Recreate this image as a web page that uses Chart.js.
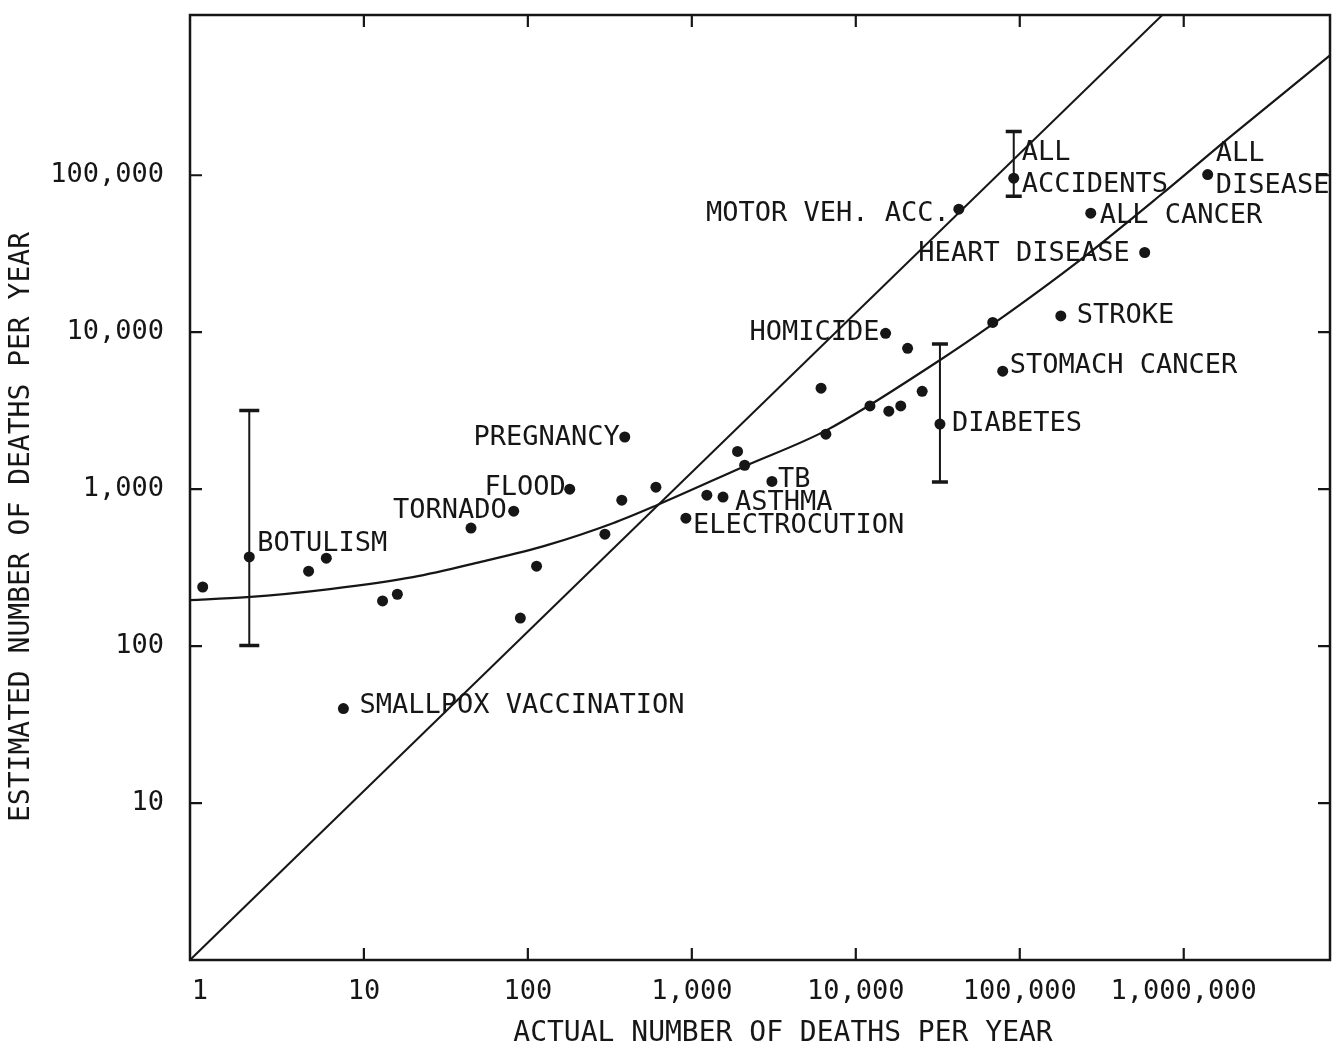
<!DOCTYPE html>
<html>
<head>
<meta charset="utf-8">
<script src="https://cdn.jsdelivr.net/npm/chart.js@4.4.1/dist/chart.umd.min.js"></script>
<style>
  html, body { margin: 0; padding: 0; background: #fff; }
  #wrap { width: 1339px; height: 1059px; }
</style>
</head>
<body>
<div id="wrap"><canvas id="ourChart"></canvas></div>
<script>
// one entry per hazard: name ('' = unlabeled), actual deaths, estimated deaths
let hazardNames = ['', 'BOTULISM', '', '', '', '', 'SMALLPOX VACCINATION', '', 'TORNADO', 'FLOOD',
    'PREGNANCY', '', '', '', '', '', 'ELECTROCUTION', '', 'ASTHMA', '', '', 'TB', '', '', '', '', '',
    'HOMICIDE', '', '', 'DIABETES', '', 'STOMACH CANCER', 'STROKE', 'MOTOR VEH. ACC.', 'ALL ACCIDENTS',
    'ALL CANCER', 'HEART DISEASE', 'ALL DISEASE'];
let actualDeaths = [1.04, 2, 4.6, 5.9, 13, 16, 7.5, 45, 82, 180,
    390, 90, 113, 295, 374, 604, 920, 1235, 1550, 1900, 2100, 3080, 6140, 6570, 12200, 15900, 18800,
    15200, 20700, 25400, 32600, 68400, 78700, 178000, 42500, 91900,
    271000, 578000, 1400000];
let estimatedDeaths = [238, 370, 300, 363, 194, 214, 40, 565, 724, 1000,
    2150, 151, 323, 517, 851, 1030, 653, 915, 890, 1740, 1420, 1120, 4400, 2240, 3390, 3140, 3390,
    9840, 7890, 4200, 2600, 11550, 5650, 12700, 60800, 95800,
    57300, 32200, 101000];

// ranges of estimates shown as bars
let rangeNames = ['BOTULISM', 'DIABETES', 'ALL ACCIDENTS'];
let rangeActual = [2, 32600, 91900];
let rangeLow = [101, 1110, 73500];
let rangeHigh = [3170, 8400, 190000];

// fitted curve
let curveActual = [0.83, 1.94, 6.2, 19.9, 51, 131, 330, 612, 2100, 6650, 32500, 68400, 232000, 745000, 1910000, 7800000];
let curveEstimated = [196, 205, 231, 275, 343, 440, 607, 791, 1400, 2377, 6630, 11250, 28700, 76800, 175000, 581000];

// line of correct estimates
let diagActual = [0.87, 740000];
let diagEstimated = [1, 1050000];

let xTicks = [1, 10, 100, 1000, 10000, 100000, 1000000];
let yTicks = [10, 100, 1000, 10000, 100000];

let xTitle = 'ACTUAL NUMBER OF DEATHS PER YEAR';
let yTitle = 'ESTIMATED NUMBER OF DEATHS PER YEAR';

const ink = '#161616';
const fontFamily = '"DejaVu Sans Mono", "Liberation Mono", monospace';

// where each name sits next to its dot
const labelPlace = {
    'BOTULISM': { dx: 8, dy: -16, align: 'left' },
    'SMALLPOX VACCINATION': { dx: 16, dy: -6, align: 'left' },
    'TORNADO': { dx: -7, dy: -3, align: 'right' },
    'FLOOD': { dx: -4, dy: -4, align: 'right' },
    'PREGNANCY': { dx: -5, dy: -2, align: 'right' },
    'ELECTROCUTION': { dx: 7, dy: 5, align: 'left' },
    'ASTHMA': { dx: 12, dy: 3, align: 'left' },
    'TB': { dx: 6, dy: -4, align: 'left' },
    'HOMICIDE': { dx: -6, dy: -3, align: 'right' },
    'DIABETES': { dx: 12, dy: -3, align: 'left' },
    'STOMACH CANCER': { dx: 7, dy: -8, align: 'left' },
    'STROKE': { dx: 16, dy: -3, align: 'left' },
    'HEART DISEASE': { dx: -15, dy: -2, align: 'right' },
    'ALL CANCER': { dx: 9, dy: 0, align: 'left' },
    'MOTOR VEH. ACC.': { dx: -9, dy: 2, align: 'right' },
    'ALL ACCIDENTS': { dx: 8, dy: -28, align: 'left', lines: ['ALL', 'ACCIDENTS'] },
    'ALL DISEASE': { dx: 8, dy: -24, align: 'left', lines: ['ALL', 'DISEASE'] }
};

const pairs = (xs, ys) => xs.map((v, i) => ({ x: v, y: ys[i] }));

const framePlugin = {
    id: 'frameAndNotes',
    afterDatasetsDraw(chart) {
        const ctx = chart.ctx;
        const a = chart.chartArea;
        const xs = chart.scales.x;
        const ys = chart.scales.y;
        ctx.save();
        ctx.strokeStyle = ink;
        ctx.fillStyle = ink;

        // box
        ctx.lineWidth = 2.5;
        ctx.strokeRect(a.left, a.top, a.right - a.left, a.bottom - a.top);

        // inward ticks
        ctx.lineWidth = 2.2;
        ctx.beginPath();
        xTicks.forEach(v => {
            const px = xs.getPixelForValue(v);
            if (px - a.left < 15) return;
            ctx.moveTo(px, a.bottom); ctx.lineTo(px, a.bottom - 12);
            ctx.moveTo(px, a.top); ctx.lineTo(px, a.top + 12);
        });
        yTicks.forEach(v => {
            const py = ys.getPixelForValue(v);
            ctx.moveTo(a.left, py); ctx.lineTo(a.left + 12, py);
            ctx.moveTo(a.right, py); ctx.lineTo(a.right - 12, py);
        });
        ctx.stroke();

        // range bars
        rangeActual.forEach((v, i) => {
            const px = xs.getPixelForValue(v);
            const lo = ys.getPixelForValue(rangeLow[i]);
            const hi = ys.getPixelForValue(rangeHigh[i]);
            const half = i === 0 ? 10 : 8;
            ctx.lineWidth = 2;
            ctx.beginPath();
            ctx.moveTo(px, lo); ctx.lineTo(px, hi);
            ctx.stroke();
            ctx.lineWidth = 3.5;
            ctx.beginPath();
            ctx.moveTo(px - half, lo); ctx.lineTo(px + half, lo);
            ctx.moveTo(px - half, hi); ctx.lineTo(px + half, hi);
            ctx.stroke();
        });

        // names
        ctx.font = '27px ' + fontFamily;
        hazardNames.forEach((name, i) => {
            if (!name) return;
            const p = labelPlace[name];
            const px = xs.getPixelForValue(actualDeaths[i]);
            const py = ys.getPixelForValue(estimatedDeaths[i]);
            const lines = p.lines || [name];
            ctx.textAlign = p.align;
            lines.forEach((t, k) => {
                ctx.fillText(t, px + p.dx, py + p.dy + k * 32 + 10);
            });
        });

        // axis titles
        ctx.font = '28px ' + fontFamily;
        ctx.textAlign = 'center';
        ctx.textBaseline = 'middle';
        ctx.fillText(xTitle, 783, 1034);
        ctx.translate(22, 527);
        ctx.rotate(-Math.PI / 2);
        ctx.fillText(yTitle, 0, 0);
        ctx.restore();
    }
};

let ourCanvas = document.getElementById('ourChart');

new Chart(ourCanvas, {
    type: 'scatter',
    data: {
        datasets: [
            {
                label: 'hazards',
                data: pairs(actualDeaths, estimatedDeaths),
                pointRadius: 5.5,
                pointBackgroundColor: ink,
                pointBorderWidth: 0
            },
            {
                type: 'line',
                label: 'fitted',
                data: pairs(curveActual, curveEstimated),
                borderColor: ink,
                borderWidth: 2.2,
                pointRadius: 0,
                cubicInterpolationMode: 'monotone',
                fill: false
            },
            {
                type: 'line',
                label: 'correct',
                data: pairs(diagActual, diagEstimated),
                borderColor: ink,
                borderWidth: 2,
                pointRadius: 0,
                tension: 0,
                fill: false
            }
        ]
    },
    options: {
        responsive: true,
        maintainAspectRatio: false,
        animation: false,
        layout: { padding: { top: 15, right: 9, left: 0, bottom: 0 } },
        plugins: {
            legend: { display: false },
            tooltip: { enabled: false }
        },
        scales: {
            x: {
                type: 'logarithmic',
                min: 0.87,
                max: 7800000,
                afterBuildTicks: s => { s.ticks = xTicks.map(v => ({ value: v })); },
                afterFit: s => { s.height = 99; s.paddingLeft = 0; s.paddingRight = 0; },
                grid: { display: false },
                border: { display: false },
                ticks: {
                    autoSkip: false,
                    maxRotation: 0,
                    padding: 8,
                    color: ink,
                    font: { family: fontFamily, size: 27 },
                    callback: v => Number(v).toLocaleString('en-US')
                }
            },
            y: {
                type: 'logarithmic',
                min: 1,
                max: 1050000,
                afterBuildTicks: s => { s.ticks = yTicks.map(v => ({ value: v })); },
                afterFit: s => { s.width = 190; s.paddingTop = 0; s.paddingBottom = 0; },
                grid: { display: false },
                border: { display: false },
                ticks: {
                    autoSkip: false,
                    padding: 18,
                    color: ink,
                    font: { family: fontFamily, size: 27 },
                    callback: v => Number(v).toLocaleString('en-US')
                }
            }
        }
    },
    plugins: [framePlugin]
});
</script>
</body>
</html>
